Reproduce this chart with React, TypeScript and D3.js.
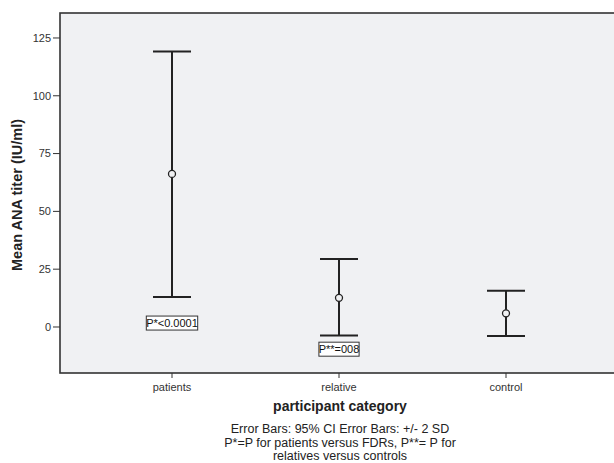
import React from 'react';
import * as d3 from 'd3';

// participant categories and their mean / interval values (IU/ml)
const categories = ['patients', 'relative', 'control'];
const means = [66.2, 12.6, 5.9];
const upper = [119.2, 29.4, 15.7];
const lower = [13.0, -3.7, -3.9];
const yTicks = [0, 25, 50, 75, 100, 125];
const pLabels = [
  { cat: 'patients', text: 'P*<0.0001', at: 1.7 },
  { cat: 'relative', text: 'P**=008', at: -9.6 },
];
const captionLines = [
  'Error Bars: 95% CI Error Bars: +/- 2 SD',
  'P*=P for patients versus FDRs, P**= P for',
  'relatives versus controls',
];

const W = 614;
const H = 463;
const left = 60, top = 13, right = 620, bottom = 373;
const font = 'Arial, "Liberation Sans", sans-serif';
const ink = '#222';

export default function App() {
  const x = d3.scalePoint<string>().domain(categories).range([172, 506]);
  const y = d3.scaleLinear().domain([-19.9, 135.8]).range([bottom, top]);
  const capHalf = 19;

  return (
    <svg width={W} height={H} style={{ position: 'absolute', left: 0, top: 0, fontFamily: font }}>
      <rect x={0} y={0} width={W} height={H} fill="#fff" />
      <rect x={left} y={top} width={right - left} height={bottom - top} fill="#f0f1f3" stroke="#333" strokeWidth={1.6} />

      {yTicks.map(t => (
        <g key={t}>
          <line x1={left - 7} x2={left} y1={y(t)} y2={y(t)} stroke="#333" />
          <text x={left - 9} y={y(t)} dy="0.35em" textAnchor="end" fontSize={11} fill="#333">{t}</text>
        </g>
      ))}
      <text transform={`translate(22,${(top + bottom) / 2 + 2}) rotate(-90)`} textAnchor="middle" fontSize={14.5} fontWeight="bold" fill={ink}>
        Mean ANA titer (IU/ml)
      </text>

      {categories.map((c, i) => {
        const cx = x(c)!;
        return (
          <g key={c}>
            <line x1={cx} x2={cx} y1={bottom} y2={bottom + 5} stroke="#333" />
            <text x={cx} y={bottom + 18} textAnchor="middle" fontSize={11} fill="#333">{c}</text>
            <line x1={cx} x2={cx} y1={y(upper[i])} y2={y(lower[i])} stroke={ink} strokeWidth={2} />
            <line x1={cx - capHalf} x2={cx + capHalf} y1={y(upper[i])} y2={y(upper[i])} stroke={ink} strokeWidth={2} />
            <line x1={cx - capHalf} x2={cx + capHalf} y1={y(lower[i])} y2={y(lower[i])} stroke={ink} strokeWidth={2} />
            <circle cx={cx} cy={y(means[i])} r={3.5} fill="#f0f1f3" stroke={ink} strokeWidth={1.3} />
          </g>
        );
      })}

      {pLabels.map(p => {
        const cx = x(p.cat)!;
        const w = p.text.length * 5.6 + 1;
        return (
          <g key={p.text}>
            <rect x={cx - w / 2} y={y(p.at) - 7} width={w} height={14} fill="#fff" stroke="#333" strokeWidth={1} />
            <text x={cx} y={y(p.at)} dy="0.35em" textAnchor="middle" fontSize={11} fill="#111">{p.text}</text>
          </g>
        );
      })}

      <text x={340} y={411} textAnchor="middle" fontSize={14} fontWeight="bold" fill={ink}>participant category</text>
      {captionLines.map((l, i) => (
        <text key={i} x={340} y={433 + i * 13.5} textAnchor="middle" fontSize={12.5} fill={ink}>{l}</text>
      ))}
    </svg>
  );
}
